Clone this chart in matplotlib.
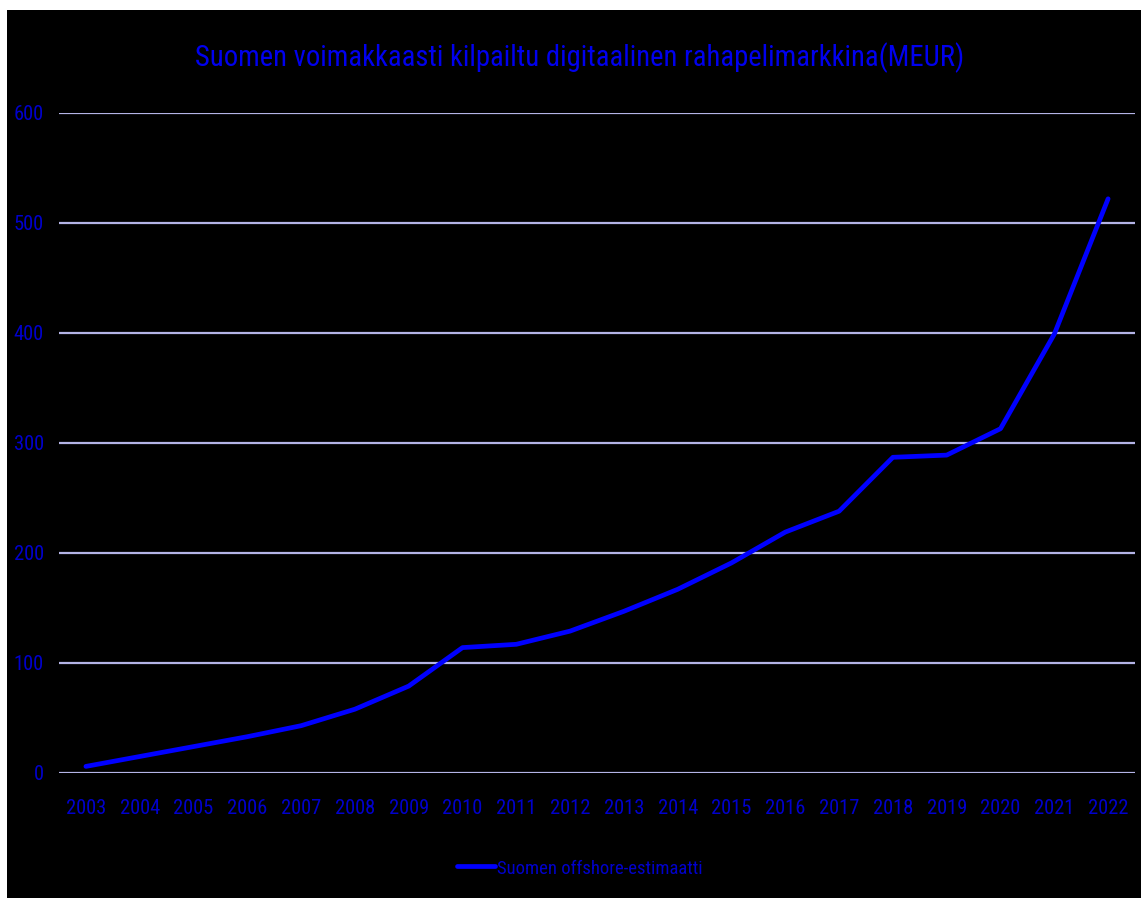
import numpy as np
import matplotlib
matplotlib.use("Agg")
import matplotlib.pyplot as plt
from matplotlib import font_manager
from matplotlib.patches import Rectangle

# data
vuodet = ["2003", "2004", "2005", "2006", "2007", "2008", "2009", "2010", "2011", "2012",
          "2013", "2014", "2015", "2016", "2017", "2018", "2019", "2020", "2021", "2022"]
offshore = [6, 15, 24, 33, 43, 58, 79, 114, 117, 129,
            147, 167, 191, 219, 238, 287, 289, 313, 399, 522]
y_ticks = [0, 100, 200, 300, 400, 500, 600]

otsikko = "Suomen voimakkaasti kilpailtu digitaalinen rahapelimarkkina(MEUR)"
sarja = "Suomen offshore-estimaatti"

# kapea fontti jos loytyy
nimet = {f.name for f in font_manager.fontManager.ttflist}
kapeat = sorted({f.name for f in font_manager.fontManager.ttflist
                 if "condensed" in str(f.stretch).lower() or "narrow" in f.name.lower()
                 or "condensed" in f.name.lower()})
ehdokkaat = ["Roboto Condensed", "Liberation Sans Narrow", "Open Sans Condensed",
             "Noto Sans Condensed", "DejaVu Sans Condensed"] + kapeat
fontti = next((n for n in ehdokkaat if n in nimet), "DejaVu Sans")
plt.rcParams['font.family'] = [fontti, "DejaVu Sans"]
venytys = "condensed" if fontti in ("DejaVu Sans",) else "normal"
plt.rcParams['font.stretch'] = venytys

W, H = 1141, 898
fig = plt.figure(figsize=(W / 100, H / 100), dpi=100, facecolor="white")
# musta tausta, ohut valkoinen reuna vasemmalla ja ylhaalla
fig.patches.append(Rectangle((7 / W, 0), 1 - 7 / W, 1 - 10 / H, transform=fig.transFigure,
                             facecolor="black", edgecolor="none", zorder=-5))

ax = fig.add_axes([59 / W, (H - 773) / H, (1135 - 59) / W, (773 - 113) / H])
ax.set_facecolor("black")

x = np.arange(len(vuodet))
ax.plot(x, offshore, color="#0000ff", linewidth=3.4, solid_capstyle="round",
        label=sarja, zorder=3)

ax.set_xlim(-0.5, len(vuodet) - 0.5)
ax.set_ylim(0, 600)
ax.set_yticks(y_ticks)
ax.set_xticks(x)
ax.set_xticklabels(vuodet)
ax.grid(axis="y", color="#b4b4e6", linewidth=1.6)
ax.set_axisbelow(True)
for s in ax.spines.values():
    s.set_visible(False)
ax.tick_params(axis="both", length=0, colors="#0000cc")
ax.tick_params(axis="x", pad=19)
ax.tick_params(axis="y", pad=11)

otsake = fig.text(0.508, 1 - 58 / H, otsikko, ha="center", va="center",
                  color="#0000ee", fontsize=24)

leg = fig.legend(loc="center", bbox_to_anchor=(0.508, 1 - 868 / H), frameon=False,
                 fontsize=17, handlelength=1.6, handletextpad=0.1)
for t in leg.get_texts():
    t.set_color("#0000cc")

# sovita kokoja mitatun leveyden mukaan
fig.canvas.draw()
r = fig.canvas.get_renderer()
def sovita(teksti, tavoite, maksimi):
    w = teksti.get_window_extent(r).width
    koko = teksti.get_fontsize() * tavoite / w
    teksti.set_fontsize(min(koko, maksimi))

sovita(otsake, 770, 30)
for t in leg.get_texts():
    sovita(t, 205, 20)
nyt = ax.get_xticklabels()[0]
w = nyt.get_window_extent(r).width
koko = min(nyt.get_fontsize() * 40 / w, 19)
ax.tick_params(axis="x", labelsize=koko)
ax.tick_params(axis="y", labelsize=koko)

fig.savefig("out.png", dpi=100, facecolor="white")
